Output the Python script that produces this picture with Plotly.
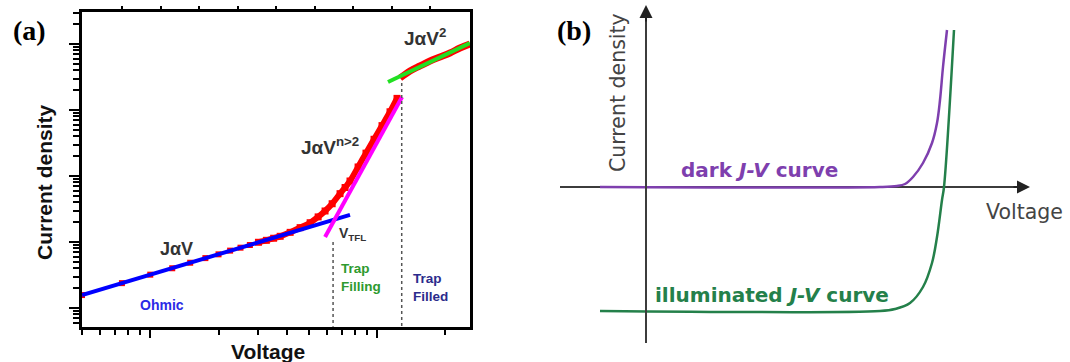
import plotly.graph_objects as go

# ---------------- Panel (a) data (log-log J-V) ----------------
ohmic_V = [0.5, 0.75, 1.0, 1.25, 1.5, 1.75, 2.0, 2.25, 2.5, 2.75]
ohmic_J = [1.57, 2.38, 3.2, 4.0, 4.85, 5.7, 6.5, 7.4, 8.2, 9.0]

band_V = [3.0, 3.25, 3.5, 3.74, 4.14, 4.58, 5.07, 5.5, 5.9, 6.34, 6.87, 7.23,
          7.6, 8.25, 8.94, 9.7, 10.52, 11.41, 12.25]
band_J = [9.9, 10.6, 11.4, 12.2, 14.0, 16.5, 19.6, 24.0, 29.5, 38, 54, 67,
          84, 137, 222, 360, 580, 940, 1500]

sq_V = [12.63, 13.98, 15.47, 17.12, 18.95, 20.97, 23.21, 25.68]
sq_J = [3050, 3900, 4650, 5520, 6350, 7310, 8700, 10000]

fit_ohmic_V = [0.5, 7.6]
fit_ohmic_J = [1.57, 25.7]
fit_tfl_V = [5.9, 12.89]
fit_tfl_J = [11.9, 1574]
fit_sq_V = [11.18, 25.68]
fit_sq_J = [2655, 10360]

vtfl_V = 6.4
vtfl_J_top = 10.0
vtf_V = 12.85
vtf_J_top = 2570
J_bottom = 0.52

x_major = [1, 10]
x_minor = [0.5, 0.6, 0.7, 0.8, 0.9, 2, 3, 4, 5, 6, 7, 8, 9, 20]
y_major = [1, 10, 100, 1000, 10000]
y_minor = [m * d for d in [0.1, 1, 10, 100, 1000, 10000] for m in range(2, 10)]
top_ticks = [1, 2, 3, 4, 5, 6, 7, 8, 9]

# ---------------- Panel (b) data (schematic J-V) ----------------
dark_V = [-0.46, 2.34, 2.51, 2.59, 2.67, 2.77, 2.86, 2.91, 2.94, 2.97, 3.01]
dark_J = [0.0, 0.0, 0.01, 0.03, 0.10, 0.24, 0.44, 0.64, 0.87, 1.20, 1.57]
ill_V = [-0.46, 2.34, 2.49, 2.64, 2.77, 2.86, 2.91, 2.96, 2.98, 3.08]
ill_J = [-1.24, -1.24, -1.22, -1.16, -1.0, -0.76, -0.50, -0.13, 0.0, 1.57]

SANS = "Liberation Sans, Arial, sans-serif"
WIDE = "DejaVu Sans, Verdana, sans-serif"
SERIF = "Liberation Serif, Times New Roman, serif"

fig = go.Figure()


def add(**kw):
    kw.setdefault("showlegend", False)
    kw.setdefault("hoverinfo", "skip")
    fig.add_trace(go.Scatter(**kw))


# red data markers (Ohmic region)
add(x=ohmic_V, y=ohmic_J, mode="markers",
    marker=dict(symbol="square", size=6, color="#ff0000"), xaxis="x", yaxis="y")
# dense red data (trap filling)
add(x=band_V, y=band_J, mode="lines+markers",
    line=dict(color="#ff0000", width=6, shape="spline"),
    marker=dict(symbol="square", size=7, color="#ff0000"), xaxis="x", yaxis="y")
# dense red data (trap filled)
add(x=sq_V, y=sq_J, mode="lines",
    line=dict(color="#ff0000", width=7, shape="spline"), xaxis="x", yaxis="y")
# fits
add(x=fit_ohmic_V, y=fit_ohmic_J, mode="lines",
    line=dict(color="#0000ff", width=4), xaxis="x", yaxis="y")
add(x=fit_tfl_V, y=fit_tfl_J, mode="lines",
    line=dict(color="#ff00ff", width=4), xaxis="x", yaxis="y")
add(x=fit_sq_V, y=fit_sq_J, mode="lines",
    line=dict(color="#22e022", width=4), xaxis="x", yaxis="y")
# dotted region separators
for v, jt in [(vtfl_V, vtfl_J_top), (vtf_V, vtf_J_top)]:
    add(x=[v, v], y=[jt, J_bottom], mode="lines",
        line=dict(color="#555555", width=1.5, dash="dot"), xaxis="x", yaxis="y")
# invisible trace to carry the top linear axis
add(x=[5], y=[1], mode="markers", marker=dict(opacity=0), xaxis="x3", yaxis="y")

# ---- panel (b) traces ----
AX = "#3c3c3c"
add(x=[-0.86, 3.72], y=[0, 0], mode="lines", line=dict(color=AX, width=2),
    xaxis="x2", yaxis="y2")
add(x=dark_V, y=dark_J, mode="lines",
    line=dict(color="#7e3fae", width=2.5, shape="spline"), xaxis="x2", yaxis="y2")
add(x=ill_V, y=ill_J, mode="lines",
    line=dict(color="#24804a", width=2.5, shape="spline"), xaxis="x2", yaxis="y2")
add(x=[0, 0], y=[-1.56, 1.72], mode="lines", line=dict(color=AX, width=2),
    xaxis="x2", yaxis="y2")

W, H = 1070, 362


def P(px, py):
    return px / W, 1 - py / H


annos = []


def text(s, px, py, size, color="#333333", bold=True, font=SANS, angle=0,
         xanchor="center", align="center"):
    x, y = P(px, py)
    annos.append(dict(text=("<b>%s</b>" % s) if bold else s, x=x, y=y,
                      xref="paper", yref="paper", showarrow=False,
                      xanchor=xanchor, yanchor="middle", align=align,
                      textangle=angle, font=dict(family=font, size=size, color=color)))


# panel (a) texts
text("(a)", 29, 30, 28, color="black", font=SERIF)
text("Current density", 44, 182, 21, color="#111111", angle=-90)
text("Voltage", 268, 351, 21, color="#111111")
text("JαV", 176, 249, 18)
text("Ohmic", 162, 305, 14, color="#2a2ae6")
text("JαV<sup>n&gt;2</sup>", 330, 146, 19)
text("JαV<sup>2</sup>", 425, 37, 19)
text("V<sub>TFL</sub>", 337, 234, 14, xanchor="left")
text("Trap<br>Filling", 339, 277, 13.5, color="#2e9a2e", xanchor="left", align="left")
text("Trap<br>Filled", 411, 287, 13.5, color="#2b2b8c", xanchor="left", align="left")

# panel (b) texts
text("(b)", 574, 30, 28, color="black", font=SERIF)
text("Current density", 618, 93, 20.5, color="#444444", bold=False, angle=-90, font=WIDE)
text("Voltage", 1024, 212, 20.5, color="#444444", bold=False, font=WIDE)
text("dark <i>J-V</i> curve", 759, 170, 20, color="#7e3fae", font=WIDE)
text("illuminated <i>J-V</i> curve", 772, 295, 20, color="#24804a", font=WIDE)

# arrowheads for panel (b) axes
annos.append(dict(x=3.84, y=0, ax=3.66, ay=0, xref="x2", yref="y2", axref="x2",
                  ayref="y2", showarrow=True, arrowhead=2, arrowsize=1.3,
                  arrowwidth=2, arrowcolor="#222222", text=""))
annos.append(dict(x=0, y=1.82, ax=0, ay=1.64, xref="x2", yref="y2", axref="x2",
                  ayref="y2", showarrow=True, arrowhead=2, arrowsize=1.3,
                  arrowwidth=2, arrowcolor="#222222", text=""))

fig.update_layout(
    width=W, height=H,
    margin=dict(l=0, r=0, t=0, b=0),
    paper_bgcolor="white", plot_bgcolor="white",
    showlegend=False,
    annotations=annos,
    xaxis=dict(type="log", range=[-0.301, 1.41], domain=[82 / W, 470 / W],
               anchor="y", showline=True, linewidth=2.5, linecolor="black",
               mirror=True, ticks="outside", tickvals=x_major, ticklen=8,
               tickwidth=2, tickcolor="black", showticklabels=False,
               showgrid=False, zeroline=False,
               minor=dict(tickvals=x_minor, ticks="outside", ticklen=5,
                          tickwidth=1.5, tickcolor="black", showgrid=False)),
    yaxis=dict(type="log", range=[-0.288, 4.485], domain=[1 - 327 / H, 1 - 12 / H],
               anchor="x", showline=True, linewidth=2.5, linecolor="black",
               mirror=True, ticks="outside", tickvals=y_major, ticklen=10,
               tickwidth=2, tickcolor="black", showticklabels=False,
               showgrid=False, zeroline=False,
               minor=dict(tickvals=y_minor, ticks="outside", ticklen=6,
                          tickwidth=1.5, tickcolor="black", showgrid=False)),
    xaxis3=dict(overlaying="x", side="top", anchor="y", range=[-0.05, 10.03],
                tickvals=top_ticks, ticks="outside", ticklen=5, tickwidth=1.5,
                tickcolor="black", showline=False, showticklabels=False,
                showgrid=False, zeroline=False),
    xaxis2=dict(domain=[540 / W, 1], range=[-1.06, 4.24], anchor="y2",
                visible=False),
    yaxis2=dict(domain=[0, 1], range=[-1.75, 1.87], anchor="x2", visible=False),
)

fig.write_html("out.html")
